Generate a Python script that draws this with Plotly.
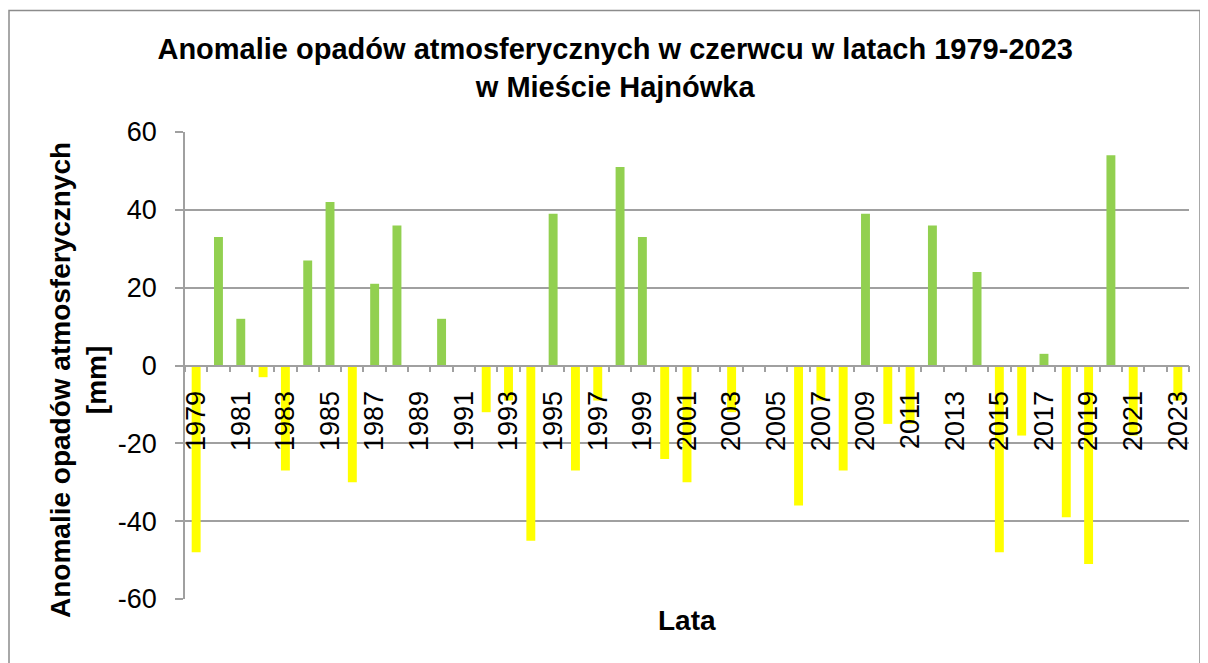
import plotly.graph_objects as go

years = list(range(1979, 2024))
anomalies = [-48, 33, 12, -3, -27, 27, 42, -30, 21, 36,
             0, 12, 0, -12, -9, -45, 39, -27, -9, 51,
             33, -24, -30, 0, -12, 0, 0, -36, -9, -27,
             39, -15, -15, 36, 0, 24, -48, -18, 3, -39,
             -51, 54, -18, 0, -9]
tick_years = list(range(1979, 2024, 2))
y_ticks = [-60, -40, -20, 0, 20, 40, 60]
y_tick_labels = ["-60", "-40", "-20", "0", "20", "40", "60"]

GREEN = "#92D050"
YELLOW = "#FFFF00"
GRID = "#A0A0A0"
FONT = "Liberation Sans, Arial, sans-serif"

colors = [GREEN if v >= 0 else YELLOW for v in anomalies]

W, H = 1200, 655
L, R, T, B = 177, 19, 124, 64
PW, PH = W - L - R, H - T - B

fig = go.Figure()
fig.add_trace(go.Bar(x=years, y=anomalies, marker=dict(color=colors, line=dict(width=0)),
                     width=0.4, showlegend=False))

fig.update_layout(
    width=W, height=H,
    paper_bgcolor="white", plot_bgcolor="white",
    margin=dict(l=L, r=R, t=T, b=B),
    font=dict(family=FONT, color="black", size=27),
    title=dict(text="<b>Anomalie opadów atmosferycznych w czerwcu w latach 1979-2023<br>w Mieście Hajnówka</b>",
               x=0.506, xanchor="center", y=1 - 51 / H, yanchor="middle", yref="container",
               font=dict(size=29, family=FONT, color="black")),
)

fig.update_xaxes(
    range=[years[0] - 0.5, years[-1] + 0.5],
    tickmode="array", tickvals=tick_years, ticktext=[str(y) for y in tick_years],
    tickangle=-90, ticks="", showgrid=False, zeroline=False,
    showline=True, linecolor=GRID, linewidth=1.5,
    anchor="free", position=0.5, ticklabelstandoff=14,
    tickfont=dict(size=27, family=FONT),
    minor=dict(tickmode="array", tickvals=[y - 0.5 for y in years] + [years[-1] + 0.5],
               ticks="outside", ticklen=6, tickcolor=GRID, tickwidth=1.5, showgrid=False),
)

fig.update_yaxes(
    range=[-60, 60], tickmode="array", tickvals=y_ticks, ticktext=y_tick_labels,
    showgrid=True, gridcolor=GRID, gridwidth=1.5, zeroline=False,
    showline=True, linecolor=GRID, linewidth=1.5,
    ticks="outside", ticklen=8, tickcolor=GRID, tickwidth=1.5, ticklabelstandoff=13,
    tickfont=dict(size=27, family=FONT),
)

# y-axis title (two lines, rotated)
fig.add_annotation(text="<b>Anomalie opadów atmosferycznych<br>[mm]</b>", xref="paper", yref="paper",
                   x=(78 - 185) / PW, y=(599 - 380) / PH, textangle=-90,
                   xanchor="center", yanchor="middle", showarrow=False,
                   font=dict(size=28, family=FONT))

fig.add_annotation(text="<b>Lata</b>", xref="paper", yref="paper", x=0.5, y=-21 / PH,
                   xanchor="center", yanchor="middle", showarrow=False,
                   font=dict(size=28, family=FONT))

# outer chart border
fig.add_shape(type="rect", xref="paper", yref="paper",
              x0=(1 - L) / PW, x1=(1192 - L) / PW,
              y0=(T + PH - (H + 20)) / PH, y1=(T + PH - 2.5) / PH,
              line=dict(color="#8C8C8C", width=1.5), fillcolor="rgba(0,0,0,0)", layer="below")

fig.write_html("out.html")
